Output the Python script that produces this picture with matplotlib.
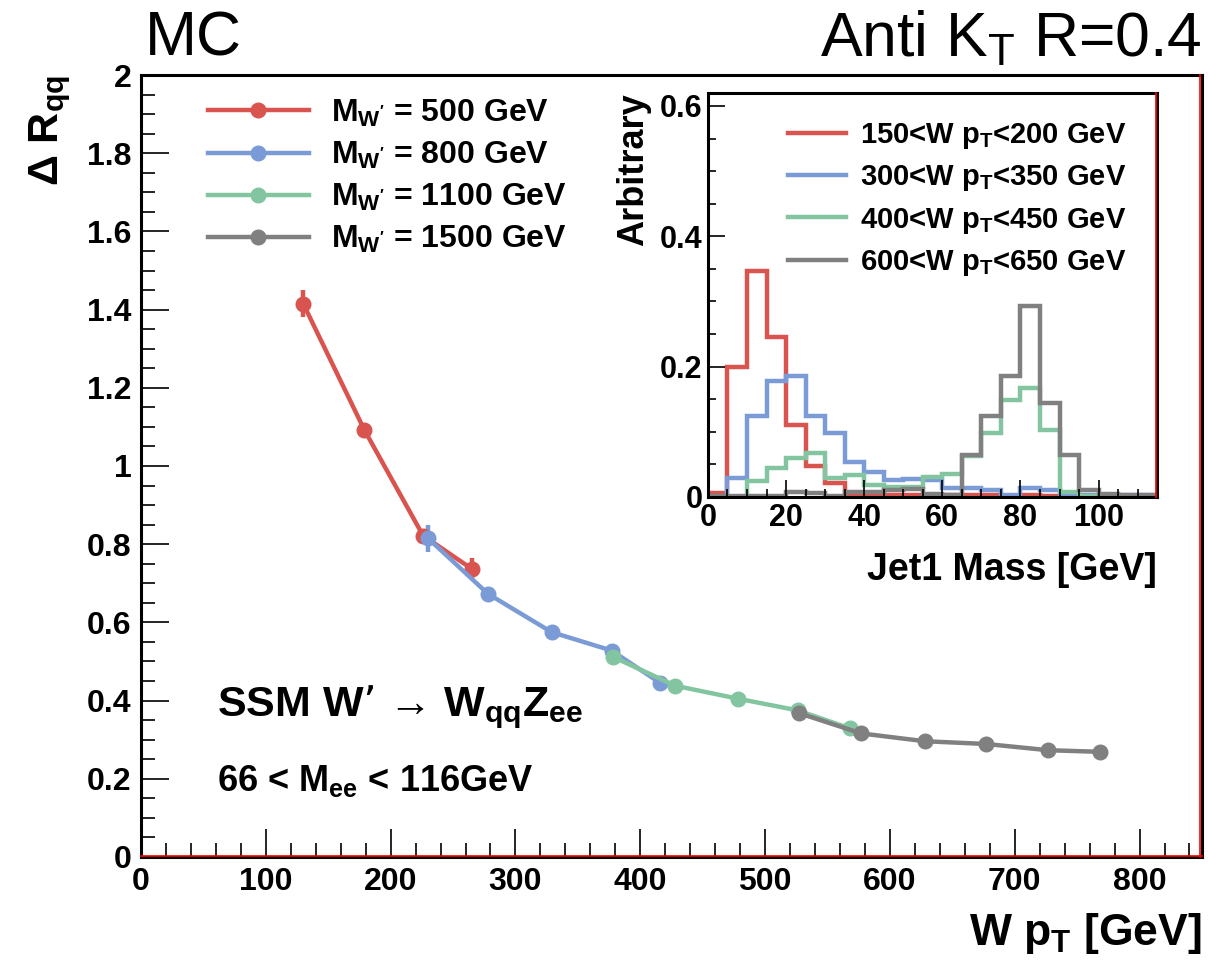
import numpy as np
import matplotlib
matplotlib.use("Agg")
import matplotlib.pyplot as plt
from matplotlib.lines import Line2D
from matplotlib.ticker import MultipleLocator, FormatStrFormatter

plt.rcParams['font.family'] = ['Liberation Sans', 'DejaVu Sans']
plt.rcParams['mathtext.default'] = 'regular'

# ---- Delta R_qq vs W pT for several W' masses ----
pt_500 = [130, 179, 226, 265]
dr_500 = [1.415, 1.092, 0.822, 0.737]
err_500 = [0.035, 0.015, 0.012, 0.028]

pt_800 = [230, 278, 329, 377, 416]
dr_800 = [0.815, 0.673, 0.575, 0.528, 0.445]
err_800 = [0.035, 0.010, 0.008, 0.010, 0.010]

pt_1100 = [378, 428, 478, 526, 568]
dr_1100 = [0.512, 0.438, 0.405, 0.375, 0.329]
err_1100 = [0.018, 0.008, 0.006, 0.006, 0.008]

pt_1500 = [527, 577, 628, 677, 727, 768]
dr_1500 = [0.368, 0.316, 0.296, 0.289, 0.273, 0.269]
err_1500 = [0.008, 0.006, 0.005, 0.005, 0.005, 0.005]

mass_labels = ["500", "800", "1100", "1500"]

# ---- Jet1 mass distributions (5 GeV bins, 0-115 GeV) ----
mass_edges = np.arange(0, 120, 5)
h_150_200 = [0.006, 0.200, 0.347, 0.246, 0.111, 0.047, 0.021, 0.004, 0.003, 0.003,
             0.003, 0.003, 0.003, 0.003, 0.003, 0.002, 0.003, 0.002, 0.0, 0.0,
             0.0, 0.0, 0.0]
h_300_350 = [0.0, 0.029, 0.124, 0.178, 0.185, 0.124, 0.098, 0.054, 0.039, 0.026,
             0.028, 0.026, 0.013, 0.013, 0.011, 0.003, 0.013, 0.011, 0.002, 0.003,
             0.003, 0.003, 0.003]
h_400_450 = [0.0, 0.0, 0.024, 0.044, 0.060, 0.067, 0.029, 0.034, 0.018, 0.016,
             0.016, 0.031, 0.035, 0.063, 0.098, 0.149, 0.167, 0.103, 0.008, 0.002,
             0.002, 0.002, 0.002]
h_600_650 = [0.002, 0.002, 0.002, 0.002, 0.008, 0.006, 0.001, 0.007, 0.007, 0.010,
             0.012, 0.004, 0.003, 0.065, 0.124, 0.186, 0.293, 0.144, 0.065, 0.011,
             0.004, 0.003, 0.003]
hist_labels = ["150<W p$_{T}$<200 GeV", "300<W p$_{T}$<350 GeV",
               "400<W p$_{T}$<450 GeV", "600<W p$_{T}$<650 GeV"]

colors = ["#d9534f", "#7b9bd6", "#83c5a0", "#808080"]

fig = plt.figure(figsize=(12.08, 9.68), dpi=100)
ax = fig.add_axes([0.1167, 0.1147, 0.8783, 0.8078])

series = [(pt_500, dr_500, err_500), (pt_800, dr_800, err_800),
          (pt_1100, dr_1100, err_1100), (pt_1500, dr_1500, err_1500)]
handles = []
for (x, y, e), c, m in zip(series, colors, mass_labels):
    ax.errorbar(x, y, yerr=e, color=c, lw=3.2, marker='o', ms=10.5,
                elinewidth=3.2, capsize=0, zorder=3)
    handles.append(Line2D([], [], color=c, lw=3.2, marker='o', ms=10.5,
                          label="M$_{W'}$ = %s GeV" % m))

ax.set_xlim(0, 850)
ax.set_ylim(0, 2)
ax.xaxis.set_major_locator(MultipleLocator(100))
ax.xaxis.set_minor_locator(MultipleLocator(20))
ax.yaxis.set_major_locator(MultipleLocator(0.2))
ax.yaxis.set_minor_locator(MultipleLocator(0.05))
ax.yaxis.set_major_formatter(FormatStrFormatter('%g'))
ax.tick_params(which='major', direction='in', length=20, width=1.2,
               labelsize=23, pad=7, top=False, right=False)
ax.tick_params(which='minor', direction='in', length=10, width=1.2,
               top=False, right=False)
for lab in ax.get_xticklabels() + ax.get_yticklabels():
    lab.set_fontweight('bold')
for s in ax.spines.values():
    s.set_linewidth(2.2)
# red frame edge along bottom and right
ax.plot([0, 1], [0.0015, 0.0015], transform=ax.transAxes, color='red', lw=1.2,
        clip_on=False, zorder=5)
ax.plot([0.9985, 0.9985], [0, 1], transform=ax.transAxes, color='red', lw=1.2,
        clip_on=False, zorder=5)

ax.set_xlabel("W p$_{T}$ [GeV]", fontsize=32, fontweight='bold', loc='right',
              labelpad=10)
ax.set_ylabel("Δ R$_{qq}$", fontsize=31, fontweight='bold', loc='top',
              labelpad=10)

leg = ax.legend(handles=handles, loc='upper left', bbox_to_anchor=(0.036, 1.008),
                frameon=False, handlelength=3.15, handletextpad=0.7,
                labelspacing=0.35, prop={'size': 23, 'weight': 'bold'})

ax.text(0.072, 0.18, "SSM W’ → W$_{qq}$Z$_{ee}$", transform=ax.transAxes,
        fontsize=31, fontweight='bold', va='baseline')
ax.text(0.072, 0.085, "66 < M$_{ee}$ < 116GeV", transform=ax.transAxes,
        fontsize=26, fontweight='bold', va='baseline')

fig.text(0.12, 0.96, "MC", fontsize=45, va='center', ha='left')
fig.text(0.995, 0.96, "Anti K$_{T}$ R=0.4", fontsize=45, va='center', ha='right')

# ---- inset: jet mass ----
ins = fig.add_axes([0.586, 0.4866, 0.372, 0.4174])
for h, c, lab in zip([h_150_200, h_300_350, h_400_450, h_600_650], colors, hist_labels):
    ins.stairs(h, mass_edges, color=c, lw=3.2, label=lab, baseline=None)
ins.set_xlim(0, 115)
ins.set_ylim(0, 0.62)
ins.xaxis.set_major_locator(MultipleLocator(20))
ins.xaxis.set_minor_locator(MultipleLocator(5))
ins.yaxis.set_major_locator(MultipleLocator(0.2))
ins.yaxis.set_minor_locator(MultipleLocator(0.05))
ins.yaxis.set_major_formatter(FormatStrFormatter('%g'))
ins.tick_params(which='major', direction='in', length=12, width=1.2,
                labelsize=22, pad=4, top=False, right=False)
ins.tick_params(which='minor', direction='in', length=6, width=1.2,
                top=False, right=False)
for lab in ins.get_xticklabels() + ins.get_yticklabels():
    lab.set_fontweight('bold')
for s in ins.spines.values():
    s.set_linewidth(2.2)
ins.plot([0.997, 0.997], [0, 1], transform=ins.transAxes, color='red', lw=1.2,
         clip_on=False, zorder=5)
ins.set_xlabel("Jet1 Mass [GeV]", fontsize=27, fontweight='bold', loc='right',
               labelpad=14)
ins.set_ylabel("Arbitrary", fontsize=26, fontweight='bold', loc='top',
               labelpad=6)
ins.legend(loc='upper left', bbox_to_anchor=(0.12, 0.995), frameon=False,
           handlelength=2.0, handletextpad=0.45, labelspacing=0.42,
           prop={'size': 21, 'weight': 'bold'})

fig.savefig("out.png", dpi=100)
